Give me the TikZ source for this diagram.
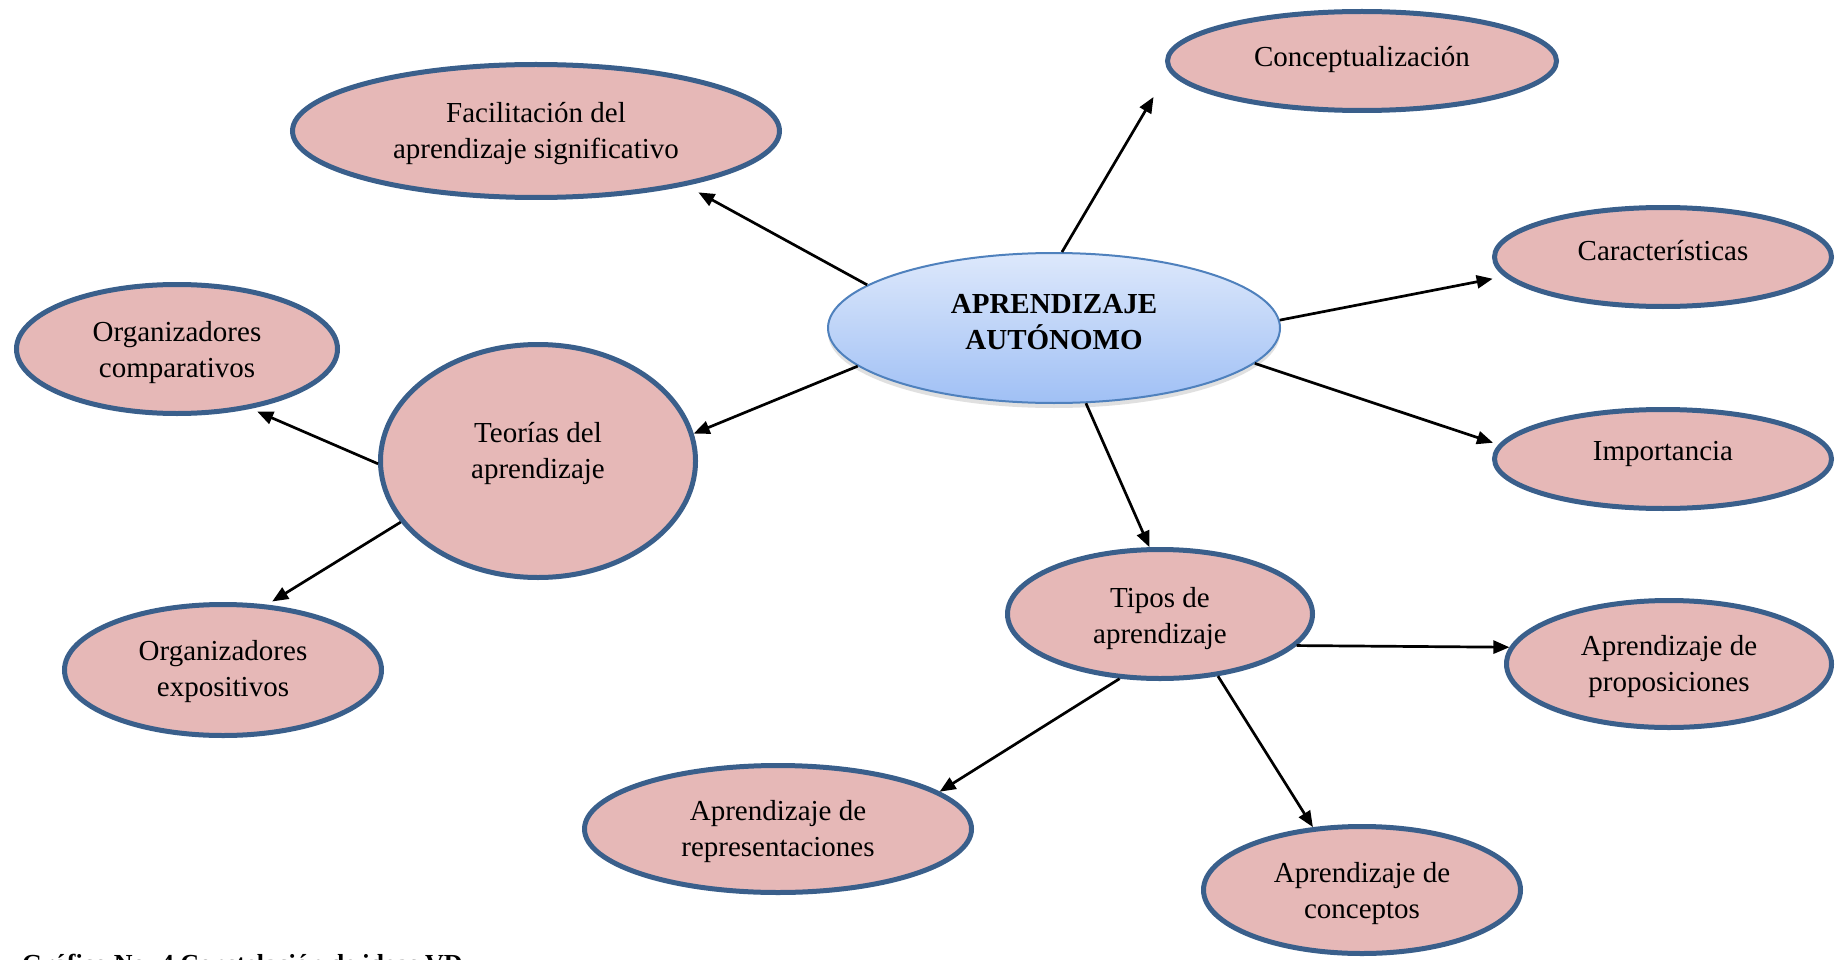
\documentclass[tikz,border=0pt]{standalone}
\usepackage{fontspec}
\setmainfont{Liberation Serif}
\usetikzlibrary{shapes.geometric,arrows.meta,shadows}
\definecolor{bord}{HTML}{3A5F8B}
\definecolor{pinkf}{HTML}{E6B8B7}
\definecolor{cbord}{HTML}{4F81BD}
\definecolor{ctop}{HTML}{DDE8FB}
\definecolor{cbot}{HTML}{A0C0F5}
\newcommand\padht[1]{\rule{0pt}{#1}}
\newcommand\paddp[1]{\rule[-#1]{0pt}{#1}}
\begin{document}
\begin{tikzpicture}[x=1pt,y=-1pt,
  idea/.style={ellipse, draw=bord, line width=5pt, fill=pinkf, inner sep=0pt, align=center, font=\fontsize{29}{36}\selectfont},
  hub/.style={ellipse, draw=cbord, line width=2pt, top color=ctop, bottom color=cbot, inner sep=0pt, align=center, font=\fontsize{29}{36}\selectfont\bfseries, drop shadow={opacity=0.2, shadow xshift=0pt, shadow yshift=-5pt, fill=black!60}},
  arr/.style={line width=2.7pt, -{Triangle[length=16pt,width=13pt]}},
]
\useasboundingbox (0,0) rectangle (1838,960);
\fill[white] (0,0) rectangle (1838,960);

\node[hub, minimum width=452pt, minimum height=150pt] (c) at (1054,328) {APRENDIZAJE\\AUTÓNOMO\paddp{12pt}};
\node[idea, minimum width=487pt, minimum height=133pt] (f) at (536,131) {\padht{26pt}Facilitación del\\aprendizaje significativo};
\node[idea, minimum width=389pt, minimum height=99pt] (k) at (1362,61) {Conceptualización\paddp{9pt}};
\node[idea, minimum width=337pt, minimum height=99pt] (ch) at (1663,257) {Características\paddp{13pt}};
\node[idea, minimum width=337pt, minimum height=99pt] (im) at (1663,459) {Importancia\paddp{16pt}};
\node[idea, minimum width=321pt, minimum height=129pt] (oc) at (177,349) {\padht{27pt}Organizadores\\comparativos};
\node[idea, minimum width=315pt, minimum height=233pt] (t) at (538,461) {Teorías del\\aprendizaje\paddp{22pt}};
\node[idea, minimum width=317pt, minimum height=131pt] (oe) at (223,670) {\padht{23pt}Organizadores\\expositivos};
\node[idea, minimum width=305pt, minimum height=129pt] (tp) at (1160,614) {\padht{29pt}Tipos de\\aprendizaje};
\node[idea, minimum width=325pt, minimum height=127pt] (pr) at (1669,664) {\padht{26pt}Aprendizaje de\\proposiciones};
\node[idea, minimum width=387pt, minimum height=127pt] (rp) at (778,829) {\padht{26pt}Aprendizaje de\\representaciones};
\node[idea, minimum width=317pt, minimum height=127pt] (cp) at (1362,890) {\padht{28pt}Aprendizaje de\\conceptos};

\draw[arr, shorten >=14pt] (c.167) -- (f.340);
\draw[arr, shorten >=30pt] (c.84) -- (k.183);
\draw[arr, shorten >=12pt] (c.2) -- (ch.187);
\draw[arr, shorten >=6pt] (c.350) -- (im.175);
\draw[arr] (c.191) -- (t.10);
\draw[arr] (c.293) -- (tp.99);
\draw[arr, shorten >=7pt] (t.181) -- (oc.321);
\draw[arr, shorten >=6pt] (t.204) -- (oe.56);
\draw[arr] (tp.347) -- (pr.174);
\draw[arr] (tp.238) -- (rp.13);
\draw[arr] (tp.313) -- (cp.128);

\node[anchor=base west, inner sep=0pt, font=\fontsize{26}{30}\selectfont\bfseries] (cap) at (22,972) {Gráfico No. 4 Constelación de ideas VD};
\end{tikzpicture}
\end{document}
